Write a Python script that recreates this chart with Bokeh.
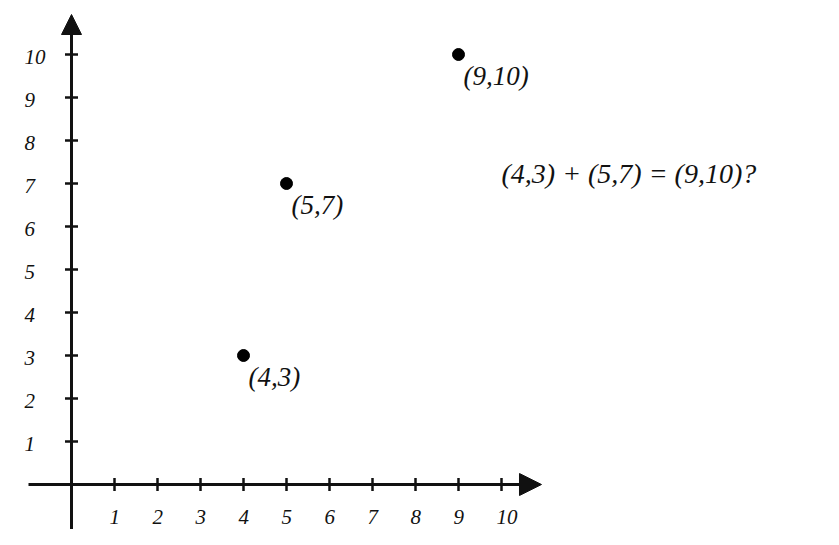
from bokeh.plotting import figure
from bokeh.models import Arrow, NormalHead, Range1d, ColumnDataSource, Label
from bokeh.core.properties import value
from bokeh.embed import file_html
from bokeh.resources import INLINE
import math

# data
px = [4, 5, 9]
py = [3, 7, 10]
plabels = ["(4,3)", "(5,7)", "(9,10)"]
xticks = [1, 2, 3, 4, 5, 6, 7, 8, 9, 10]
yticks = [1, 2, 3, 4, 5, 6, 7, 8, 9, 10]
note = "(4,3) + (5,7) = (9,10)?"

FONT = value("Liberation Serif")
INK = "#111111"

W, H = 823, 529
UNIT = 43.0
ox, oy = 71, 484  # origin inside canvas
x0 = -ox / UNIT
y1 = oy / UNIT

p = figure(width=W, height=H, output_backend="svg", toolbar_location=None,
           x_range=Range1d(x0, x0 + W / UNIT), y_range=Range1d(y1 - H / UNIT, y1),
           min_border=0, outline_line_color=None)
p.axis.visible = False
p.grid.visible = False
p.background_fill_color = "white"

# axes with arrows
p.add_layout(Arrow(end=NormalHead(size=22, fill_color=INK, line_color=INK, line_width=1),
                   x_start=-1.0, y_start=0, x_end=10.93, y_end=0,
                   line_width=3, line_color=INK))
p.add_layout(Arrow(end=NormalHead(size=20, fill_color=INK, line_color=INK, line_width=1),
                   x_start=0, y_start=-1.07, x_end=0, y_end=10.93,
                   line_width=3, line_color=INK))

# ticks
p.scatter(x=xticks, y=[0] * len(xticks), marker="dash", size=13, angle=math.pi / 2,
          line_color=INK, line_width=2.5)
p.scatter(x=[0] * len(yticks), y=yticks, marker="dash", size=13,
          line_color=INK, line_width=2.5)

# tick labels
p.text(x=xticks, y=[0] * len(xticks), text=[str(t) for t in xticks],
       text_font=FONT, text_font_style="italic", text_font_size="21px",
       text_align="left", text_baseline="middle", x_offset=-5, y_offset=32,
       text_color=INK)
p.text(x=[-1.093] * len(yticks), y=yticks, text=[str(t) for t in yticks],
       text_font=FONT, text_font_style="italic", text_font_size="21px",
       text_align="left", text_baseline="middle", y_offset=2, text_color=INK)

# points
src = ColumnDataSource(dict(x=px, y=py, t=plabels))
p.scatter("x", "y", source=src, size=12, color="black")
p.text("x", "y", text="t", source=src, text_font=FONT, text_font_style="italic",
       text_font_size="27px", text_align="left", text_baseline="middle",
       x_offset=5, y_offset=21, text_color=INK)

p.add_layout(Label(x=10.0, y=7.24, text=note, text_font="Liberation Serif",
                   text_font_style="italic", text_font_size="28px",
                   text_baseline="middle", text_color=INK))

open("out.html", "w").write(file_html(p, INLINE))
